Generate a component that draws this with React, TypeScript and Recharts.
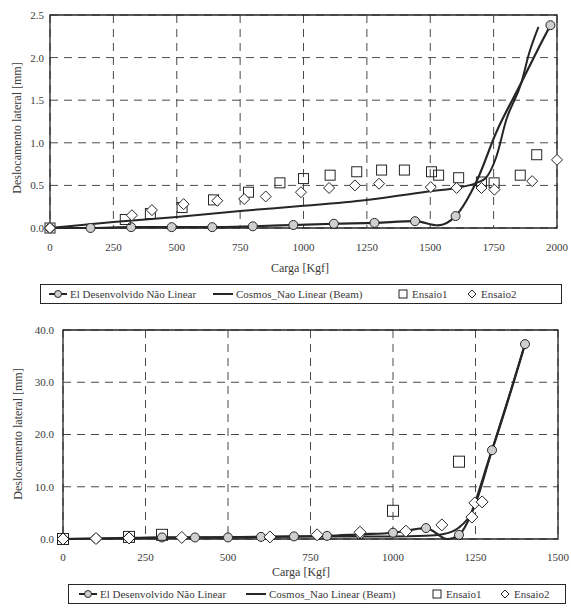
import React from 'react';
import {
  ComposedChart,
  Line,
  Scatter,
  XAxis,
  YAxis,
  CartesianGrid,
  ReferenceArea,
} from 'recharts';

const FONT = 'Liberation Serif, Tinos, Times New Roman, DejaVu Serif, serif';
const INK = '#262626';
const TEXT = '#3a3a3a';

// ---- upper chart (0..2000 kgf) ----
const topTicksX = [0, 250, 500, 750, 1000, 1250, 1500, 1750, 2000];
const topTicksY = [0, 0.5, 1.0, 1.5, 2.0, 2.5];

const topEiLoad = [0, 160, 320, 480, 640, 800, 960, 1120, 1280, 1440, 1600, 1974];
const topEiDisp = [0, 0, 0.01, 0.01, 0.01, 0.02, 0.035, 0.05, 0.06, 0.08, 0.14, 2.38];
const topEiCurveLoad = [0, 160, 320, 480, 640, 800, 960, 1120, 1280, 1440, 1530, 1600, 1683, 1760, 1860, 1920, 1974];
const topEiCurveDisp = [0, 0, 0.01, 0.01, 0.01, 0.02, 0.035, 0.05, 0.06, 0.08, 0.03, 0.14, 0.55, 1.12, 1.71, 2.07, 2.38];

const topCosmosLoad = [0, 250, 500, 750, 1000, 1250, 1500, 1600, 1683, 1720, 1760, 1800, 1860, 1890, 1927];
const topCosmosDisp = [0, 0.07, 0.13, 0.2, 0.26, 0.33, 0.43, 0.47, 0.53, 0.59, 0.83, 1.27, 1.71, 2.05, 2.36];

const topEnsaio1Load = [0, 297, 396, 521, 645, 783, 907, 1000, 1105, 1210, 1308, 1398, 1505, 1533, 1612, 1702, 1752, 1855, 1920];
const topEnsaio1Disp = [0, 0.1, 0.17, 0.24, 0.33, 0.42, 0.53, 0.58, 0.62, 0.66, 0.68, 0.68, 0.66, 0.62, 0.59, 0.54, 0.53, 0.62, 0.86];

const topEnsaio2Load = [0, 323, 402, 527, 660, 766, 851, 990, 1101, 1203, 1298, 1502, 1604, 1702, 1753, 1902, 2000];
const topEnsaio2Disp = [0, 0.15, 0.21, 0.28, 0.32, 0.34, 0.37, 0.42, 0.47, 0.5, 0.52, 0.48, 0.47, 0.47, 0.45, 0.55, 0.8];

// ---- lower chart (0..1500 kgf) ----
const botTicksX = [0, 250, 500, 750, 1000, 1250, 1500];
const botTicksY = [0, 10, 20, 30, 40];

const botEiLoad = [0, 100, 200, 300, 400, 500, 600, 700, 800, 900, 1000, 1100, 1200, 1300, 1400];
const botEiDisp = [0, 0.1, 0.2, 0.3, 0.3, 0.3, 0.4, 0.5, 0.6, 0.9, 1.2, 2.1, 0.8, 17.0, 37.3];
const botEiCurveLoad = [0, 100, 200, 300, 400, 500, 600, 700, 800, 900, 1000, 1100, 1165, 1200, 1300, 1400];
const botEiCurveDisp = [0, 0.1, 0.2, 0.3, 0.3, 0.3, 0.4, 0.5, 0.6, 0.9, 1.2, 2.1, 0.0, 0.8, 17.0, 37.3];

const botCosmosLoad = [0, 250, 500, 750, 1000, 1100, 1150, 1200, 1240, 1300, 1350, 1400];
const botCosmosDisp = [0, 0.2, 0.35, 0.5, 0.5, 0.6, 0.9, 2.2, 5.2, 17.0, 27.0, 37.3];

const botEnsaio1Load = [0, 200, 300, 1000, 1200];
const botEnsaio1Disp = [0, 0.4, 0.8, 5.4, 14.8];

const botEnsaio2Load = [0, 100, 200, 360, 627, 770, 900, 1039, 1148, 1239, 1248, 1270];
const botEnsaio2Disp = [0, 0.1, 0.2, 0.3, 0.4, 0.8, 1.3, 1.5, 2.7, 4.2, 6.9, 7.1];

const pts = (xs: number[], ys: number[]) => xs.map((x, i) => ({ x, y: ys[i] }));

const circleShape = (r: number) => (p: any) => (
  <circle cx={p.cx} cy={p.cy} r={r} fill="#cfcfcf" stroke={INK} strokeWidth={1} />
);
const squareShape = (s: number) => (p: any) => (
  <rect x={p.cx - s / 2} y={p.cy - s / 2} width={s} height={s} fill="none" stroke={INK} strokeWidth={1} />
);
const diamondShape = (s: number) => (p: any) => (
  <polygon
    points={`${p.cx},${p.cy - s} ${p.cx + s},${p.cy} ${p.cx},${p.cy + s} ${p.cx - s},${p.cy}`}
    fill="#fff"
    stroke={INK}
    strokeWidth={1}
  />
);

// legend item offsets (px from the box's left edge)
function Legend({ left, top, width, at }: { left: number; top: number; width: number; at: number[] }) {
  const item = (x: number): React.CSSProperties => ({
    position: 'absolute',
    left: x,
    top: 0,
    height: 18,
    display: 'flex',
    alignItems: 'center',
    gap: 3,
  });
  return (
    <div
      style={{
        position: 'absolute',
        left,
        top,
        width,
        height: 20,
        border: `1px solid ${INK}`,
        boxSizing: 'border-box',
        fontFamily: FONT,
        fontSize: 11,
        color: TEXT,
        whiteSpace: 'nowrap',
      }}
    >
      <span style={item(at[0])}>
        <svg width={18} height={10}>
          <line x1={0} y1={5} x2={18} y2={5} stroke={INK} strokeWidth={2} />
          <circle cx={9} cy={5} r={3.5} fill="#cfcfcf" stroke={INK} />
        </svg>
        El Desenvolvido Não Linear
      </span>
      <span style={item(at[1])}>
        <svg width={20} height={10}>
          <line x1={0} y1={5} x2={20} y2={5} stroke={INK} strokeWidth={2} />
        </svg>
        Cosmos_Nao Linear (Beam)
      </span>
      <span style={item(at[2])}>
        <svg width={12} height={10}>
          <rect x={2} y={1} width={8} height={8} fill="none" stroke={INK} />
        </svg>
        Ensaio1
      </span>
      <span style={item(at[3])}>
        <svg width={12} height={10}>
          <polygon points="6,1 10,5 6,9 2,5" fill="#fff" stroke={INK} />
        </svg>
        Ensaio2
      </span>
    </div>
  );
}

const vLabel = (text: string, x: number, y: number) => () => (
  <text
    x={x}
    y={y}
    transform={`rotate(-90, ${x}, ${y})`}
    textAnchor="middle"
    dominantBaseline="central"
    style={{ fontFamily: FONT, fontSize: 12 }}
    fill={TEXT}
  >
    {text}
  </text>
);

const hLabel = (text: string, x: number, y: number) => () => (
  <text x={x} y={y} textAnchor="middle" style={{ fontFamily: FONT, fontSize: 12 }} fill={TEXT}>
    {text}
  </text>
);

const tickStyle = { fontSize: 11, fill: TEXT, style: { fontFamily: FONT } };

export default function App() {
  return (
    <div style={{ position: 'absolute', left: 0, top: 0, width: 571, height: 615, background: '#fff', fontFamily: FONT }}>
      <div style={{ position: 'absolute', left: 0, top: 0 }}>
        <ComposedChart width={571} height={282} margin={{ top: 15, right: 14, bottom: 0, left: 0 }}>
          <CartesianGrid strokeDasharray="8 6" stroke="#4a4a4a" />
          <XAxis
            type="number"
            dataKey="x"
            domain={[0, 2000]}
            ticks={topTicksX}
            height={54}
            tickSize={0}
            tickMargin={15}
            axisLine={false}
            tick={tickStyle}
            label={{ content: hLabel('Carga [Kgf]', 300, 272) }}
          />
          <YAxis
            type="number"
            dataKey="y"
            domain={[0, 2.5]}
            ticks={topTicksY}
            width={50}
            tickSize={0}
            tickMargin={6}
            axisLine={false}
            tick={tickStyle}
            tickFormatter={(v: number) => v.toFixed(1)}
            label={{ content: vLabel('Deslocamento lateral [mm]', 17, 128) }}
          />
          <ReferenceArea x1={0} x2={2000} y1={0} y2={2.5} fill="none" stroke={INK} strokeWidth={1.3} ifOverflow="visible" />
          <Line data={pts(topCosmosLoad, topCosmosDisp)} dataKey="y" type="monotone" stroke={INK} strokeWidth={2} dot={false} isAnimationActive={false} />
          <Line data={pts(topEiCurveLoad, topEiCurveDisp)} dataKey="y" type="monotone" stroke={INK} strokeWidth={2.2} dot={false} isAnimationActive={false} />
          <Scatter data={pts(topEiLoad, topEiDisp)} shape={circleShape(4.5)} isAnimationActive={false} />
          <Scatter data={pts(topEnsaio1Load, topEnsaio1Disp)} shape={squareShape(10)} isAnimationActive={false} />
          <Scatter data={pts(topEnsaio2Load, topEnsaio2Disp)} shape={diamondShape(5.5)} isAnimationActive={false} />
        </ComposedChart>
      </div>
      <Legend left={40} top={284} width={522} at={[8, 172, 356, 425]} />

      <div style={{ position: 'absolute', left: 0, top: 315 }}>
        <ComposedChart width={571} height={265} margin={{ top: 15, right: 13, bottom: 0, left: 0 }}>
          <CartesianGrid strokeDasharray="8 6" stroke="#4a4a4a" />
          <XAxis
            type="number"
            dataKey="x"
            domain={[0, 1500]}
            ticks={botTicksX}
            height={41}
            tickSize={0}
            tickMargin={14}
            axisLine={false}
            tick={tickStyle}
            label={{ content: hLabel('Carga [Kgf]', 301, 261) }}
          />
          <YAxis
            type="number"
            dataKey="y"
            domain={[0, 40]}
            ticks={botTicksY}
            width={63}
            tickSize={0}
            tickMargin={9}
            axisLine={false}
            tick={tickStyle}
            tickFormatter={(v: number) => v.toFixed(1)}
            label={{ content: vLabel('Deslocamento lateral [mm]', 18, 119) }}
          />
          <ReferenceArea x1={0} x2={1500} y1={0} y2={40} fill="none" stroke={INK} strokeWidth={1.3} ifOverflow="visible" />
          <Line data={pts(botCosmosLoad, botCosmosDisp)} dataKey="y" type="monotone" stroke={INK} strokeWidth={2} dot={false} isAnimationActive={false} />
          <Line data={pts(botEiCurveLoad, botEiCurveDisp)} dataKey="y" type="monotone" stroke={INK} strokeWidth={2.2} dot={false} isAnimationActive={false} />
          <Scatter data={pts(botEiLoad, botEiDisp)} shape={circleShape(4.5)} isAnimationActive={false} />
          <Scatter data={pts(botEnsaio1Load, botEnsaio1Disp)} shape={squareShape(11)} isAnimationActive={false} />
          <Scatter data={pts(botEnsaio2Load, botEnsaio2Disp)} shape={diamondShape(6)} isAnimationActive={false} />
        </ComposedChart>
      </div>
      <Legend left={68} top={584} width={498} at={[10, 177, 362, 430]} />
    </div>
  );
}
